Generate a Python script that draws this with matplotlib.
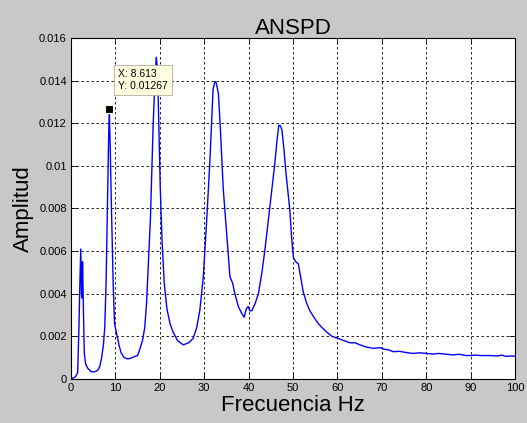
import matplotlib
matplotlib.use("Agg")
import matplotlib.pyplot as plt

plt.rcParams['font.family'] = ['Liberation Sans', 'DejaVu Sans']

freq = [0.0, 0.5, 1.0, 1.5, 1.8, 2.0, 2.2, 2.35, 2.5, 2.6, 2.8, 3.0, 3.3, 3.8, 4.5, 5.2, 6.0, 6.5, 6.9, 7.3, 7.6, 7.9,
        8.2, 8.45, 8.613, 8.8, 9.1, 9.5, 9.8, 10.1, 10.4, 10.8, 11.3, 12.0, 12.8, 13.5, 14.3, 15.0, 15.5, 16.1, 16.6,
        17.0, 17.3, 17.6, 17.9, 18.2, 18.5, 18.9, 19.2, 19.5, 19.8, 20.1, 20.5, 21.0, 21.6, 22.3, 23.0, 24.0, 25.3,
        26.5, 27.5, 28.3, 29.0, 29.8, 30.6, 31.3, 32.0, 32.4, 32.7, 33.2, 33.7, 34.3, 35.1, 35.8, 36.4, 36.9, 37.7,
        38.4, 39.0, 39.5, 39.9, 40.3, 40.7, 41.4, 42.2, 43.0, 43.7, 44.3, 44.8, 45.4, 45.9, 46.4, 46.8, 47.1, 47.5,
        48.0, 48.4, 48.9, 49.3, 49.7, 50.1, 50.6, 51.2, 51.8, 52.3, 53.0, 53.8, 54.7, 55.7, 56.6, 57.6, 58.8, 60.2,
        61.5, 62.8, 64.0, 65.1, 66.5, 68.1, 69.6, 70.5, 71.5, 72.6, 74.0, 75.5, 77.1, 78.5, 80.1, 81.5, 82.8, 84.6,
        86.0, 87.5, 89.0, 89.9, 91.0, 92.5, 94.4, 96.0, 97.0, 98.0, 99.0, 100.0]
amp = [0.0, 0.00005, 0.0001, 0.0003, 0.0025, 0.0045, 0.0061, 0.0040, 0.0038, 0.0055, 0.0032, 0.0012, 0.0007,
       0.0005, 0.00035, 0.00033, 0.0004, 0.0006, 0.0010, 0.0016, 0.0024, 0.0045,
       0.0081, 0.0110, 0.01267, 0.0112, 0.0081, 0.0045, 0.0026, 0.0023, 0.0020, 0.0016, 0.00122, 0.0010, 0.00094,
       0.00098, 0.00105, 0.0011, 0.0014, 0.0018, 0.0024,
       0.0035, 0.0048, 0.0062, 0.0076, 0.0098, 0.0119, 0.0140, 0.0151, 0.0145, 0.0118, 0.0090, 0.0065, 0.0045,
       0.0033, 0.0026, 0.0022, 0.0018, 0.0016,
       0.0017, 0.0019, 0.0024, 0.0032, 0.0048, 0.0076, 0.0103, 0.0136, 0.01396, 0.0139, 0.0134, 0.0115, 0.0089,
       0.0067, 0.0048, 0.0045, 0.0040, 0.0034,
       0.0031, 0.0029, 0.0033, 0.0034, 0.0032, 0.0032, 0.0035, 0.0040, 0.0050, 0.0061, 0.0072, 0.0081, 0.0092,
       0.0101, 0.0112, 0.0119, 0.0119, 0.0117,
       0.0107, 0.0097, 0.0087, 0.0079, 0.0066, 0.0057, 0.0055, 0.0054, 0.0047, 0.0041, 0.0036, 0.0032, 0.0029,
       0.0026, 0.0024, 0.0022, 0.0020, 0.0019,
       0.0018, 0.0017, 0.0017, 0.0016, 0.0015, 0.00144, 0.00147, 0.0014, 0.00137, 0.00128, 0.0013, 0.00124,
       0.0012, 0.00123, 0.0012, 0.00117, 0.0012, 0.00116,
       0.00113, 0.00116, 0.0011, 0.0011, 0.00112, 0.0011, 0.0011, 0.00108, 0.00112, 0.00106, 0.00108, 0.00107]

tip_x = 8.613
tip_y = 0.01267
title = "ANSPD"
xlabel = "Frecuencia Hz"
ylabel = "Amplitud"
xticks = list(range(0, 101, 10))
yticks = [0, 0.002, 0.004, 0.006, 0.008, 0.01, 0.012, 0.014, 0.016]
ytick_labels = ["0", "0.002", "0.004", "0.006", "0.008", "0.01", "0.012", "0.014", "0.016"]

fig = plt.figure(figsize=(5.27, 4.23), dpi=100, facecolor='#c8c8c8')
ax = fig.add_axes([71/527, 1 - 379/423, (515 - 71)/527, (379 - 38)/423])
ax.set_facecolor('white')
ax.plot(freq, amp, color='#0000ff', linewidth=1.0)
ax.set_xlim(0, 100)
ax.set_ylim(0, 0.016)
ax.set_xticks(xticks)
ax.set_xticklabels([str(t) for t in xticks])
ax.set_yticks(yticks)
ax.set_yticklabels(ytick_labels)
ax.tick_params(direction='in', length=4, width=0.6, labelsize=8, pad=3, top=True, right=True)
ax.grid(True, color='black', linestyle=(0, (3, 3)), linewidth=0.6)
for s in ax.spines.values():
    s.set_color('black')
    s.set_linewidth(0.8)

ax.set_title(title, fontsize=16, pad=3)
ax.set_xlabel(xlabel, fontsize=16, labelpad=1)
ax.set_ylabel(ylabel, fontsize=16, labelpad=4)

ax.plot([tip_x], [tip_y], marker='s', markersize=6, color='black', markeredgecolor='#ffffe1',
        markeredgewidth=0.8, zorder=5)
ax.annotate(f"X: {tip_x}\nY: {tip_y}", xy=(tip_x, tip_y), xytext=(10.6, 0.01403),
            fontsize=7.5, va='center', ha='left', linespacing=1.3,
            bbox=dict(boxstyle='square,pad=0.4', fc='#ffffe1', ec='#b0b0a0', lw=0.6), zorder=6)

fig.savefig("out.png", dpi=100, facecolor=fig.get_facecolor())
